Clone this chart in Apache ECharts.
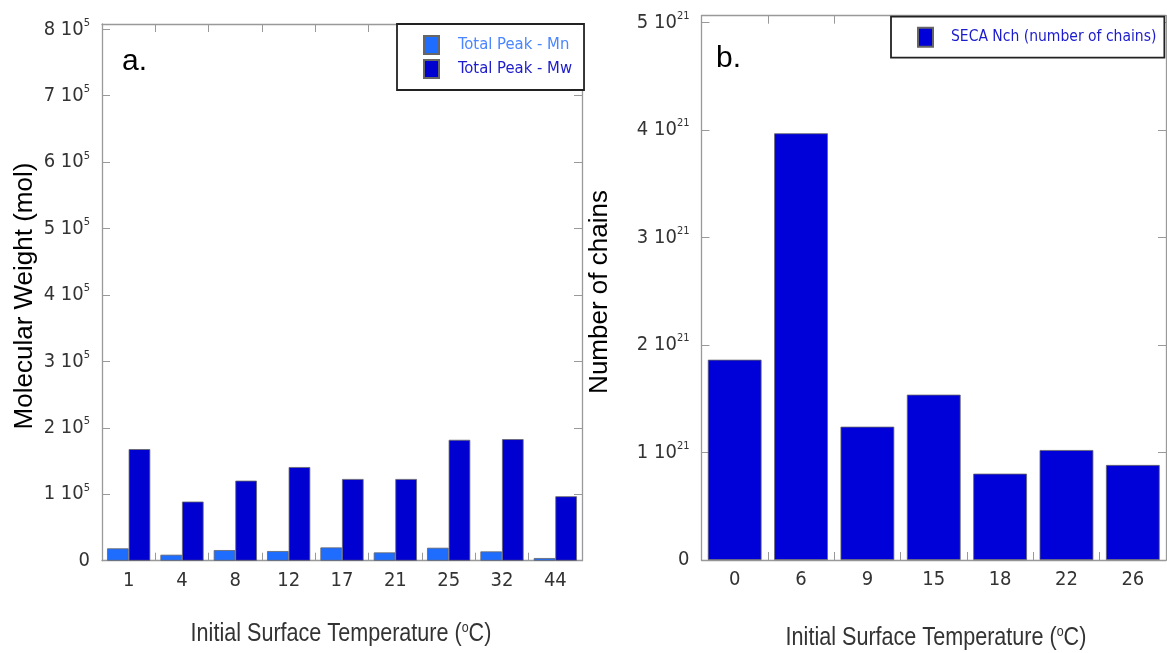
<!DOCTYPE html>
<html>
<head>
<meta charset="utf-8">
<script src="https://cdn.jsdelivr.net/npm/echarts@6/dist/echarts.min.js"></script>
<style>
  html, body { margin: 0; padding: 0; background: #fff; }
  #chart { width: 1167px; height: 653px; }
</style>
</head>
<body>
<div id="chart"></div>
<script>
// Panel a: molecular weight by initial surface temperature
const tempsA = ['1', '4', '8', '12', '17', '21', '25', '32', '44'];
const peakMn = [18600, 9000, 16000, 14500, 20000, 12500, 19500, 14000, 4000];
const peakMw = [168000, 89000, 120500, 141000, 123000, 123000, 182000, 183000, 97000];

// Panel b: number of chains by initial surface temperature
const tempsB = ['0', '6', '9', '15', '18', '22', '26'];
const chains = [1.863e21, 3.969e21, 1.240e21, 1.538e21, 0.803e21, 1.023e21, 0.884e21];

const NARROW = '"DejaVu Sans Condensed", "Liberation Sans Narrow", sans-serif';
const ARIAL = '"Liberation Sans", Arial, sans-serif';
const FRAME = '#999';

const chart = echarts.init(document.getElementById('chart'), null, { renderer: 'canvas' });

function sciLabel(step, exp) {
  return function (v) {
    const k = Math.round(v / step);
    if (Math.abs(v / step - k) > 1e-6) return '';
    if (k === 0) return '{m|0}';
    return '{m|' + k + ' 10}{s|' + exp + '}';
  };
}

const tickRich = {
  m: { fontFamily: NARROW, fontSize: 20, color: '#333', lineHeight: 24 },
  s: { fontFamily: NARROW, fontSize: 11, color: '#333', lineHeight: 10, verticalAlign: 'top' }
};

function catAxis(grid, data, pos) {
  return {
    type: 'category', gridIndex: grid, data: data, position: pos,
    axisLine: { show: true, onZero: false, lineStyle: { color: FRAME, width: 1.3 } },
    axisTick: { show: true, inside: true, length: 8, lineStyle: { color: FRAME, width: 1 } },
    axisLabel: pos === 'bottom'
      ? { show: true, fontFamily: NARROW, fontSize: 20, color: '#333', margin: 10 }
      : { show: false },
    splitLine: { show: false }
  };
}

function valAxis(grid, max, step, exp, pos) {
  return {
    type: 'value', gridIndex: grid, position: pos, min: 0, max: max, interval: step,
    axisLine: { show: true, onZero: false, lineStyle: { color: FRAME, width: 1.3 } },
    axisTick: { show: true, inside: true, length: 8, lineStyle: { color: FRAME, width: 1 } },
    axisLabel: pos === 'left'
      ? { show: true, margin: 12, formatter: sciLabel(step, exp), rich: tickRich }
      : { show: false },
    splitLine: { show: false }
  };
}

const barBorder = { borderColor: '#666', borderWidth: 0.8 };

function tempTitle(x, y) {
  return {
    type: 'text', x: x, y: y, scaleX: 0.83,
    style: {
      text: '{t|Initial Surface Temperature (}{s|o}{t|C)}',
      align: 'center', verticalAlign: 'middle',
      rich: {
        t: { fontFamily: ARIAL, fontSize: 26, fill: '#333', lineHeight: 28 },
        s: { fontFamily: ARIAL, fontSize: 15, fill: '#333', lineHeight: 12, verticalAlign: 'top' }
      }
    }
  };
}

chart.setOption({
  animation: false,
  backgroundColor: '#fff',
  grid: [
    { left: 102, top: 24, width: 480, height: 536.7 },
    { left: 701.5, top: 15.7, width: 464.5, height: 544.3 }
  ],
  xAxis: [
    catAxis(0, tempsA, 'bottom'),
    catAxis(0, tempsA, 'top'),
    catAxis(1, tempsB, 'bottom'),
    catAxis(1, tempsB, 'top')
  ],
  yAxis: [
    valAxis(0, 808000, 100000, '5', 'left'),
    valAxis(0, 808000, 100000, '5', 'right'),
    valAxis(1, 5.063e21, 1e21, '21', 'left'),
    valAxis(1, 5.063e21, 1e21, '21', 'right')
  ],
  legend: [
    {
      left: 397, top: 24, orient: 'vertical',
      padding: [11, 12, 11, 26], itemGap: 4, itemWidth: 15, itemHeight: 18,
      borderColor: '#222', borderWidth: 1.8, backgroundColor: '#fff',
      icon: 'rect',
      textStyle: { fontFamily: NARROW, fontSize: 16.5, padding: [0, 0, 0, 14] },
      data: [
        { name: 'Total Peak - Mn', textStyle: { color: '#4a86ff' } },
        { name: 'Total Peak - Mw', textStyle: { color: '#1c1ccc' } }
      ]
    },
    {
      left: 891, top: 16.7, orient: 'vertical',
      padding: [10, 8, 10, 26], itemWidth: 15, itemHeight: 19,
      borderColor: '#222', borderWidth: 1.8, backgroundColor: '#fff',
      icon: 'rect',
      textStyle: { fontFamily: NARROW, fontSize: 15.5, padding: [0, 0, 0, 13] },
      data: [
        { name: 'SECA Nch (number of chains)', textStyle: { color: '#1c1ccc' } }
      ]
    }
  ],
  series: [
    {
      name: 'Total Peak - Mn', type: 'bar', xAxisIndex: 0, yAxisIndex: 0,
      data: peakMn, barGap: '0%', barCategoryGap: '19%',
      itemStyle: Object.assign({ color: '#1f6dff' }, barBorder)
    },
    {
      name: 'Total Peak - Mw', type: 'bar', xAxisIndex: 0, yAxisIndex: 0,
      data: peakMw, barGap: '0%', barCategoryGap: '19%',
      itemStyle: Object.assign({ color: '#0000d0' }, barBorder)
    },
    {
      name: 'SECA Nch (number of chains)', type: 'bar', xAxisIndex: 2, yAxisIndex: 2,
      data: chains, barCategoryGap: '19%',
      itemStyle: Object.assign({ color: '#0000d8' }, barBorder)
    }
  ],
  graphic: [
    {
      type: 'text', left: 122, top: 47,
      style: { text: 'a.', font: '30px ' + ARIAL, fill: '#000' }
    },
    {
      type: 'text', left: 716, top: 44,
      style: { text: 'b.', font: '30px ' + ARIAL, fill: '#000' }
    },
    {
      type: 'text', x: 25, y: 296, rotation: Math.PI / 2,
      style: {
        text: 'Molecular Weight (mol)', font: '26px ' + ARIAL, fill: '#000',
        align: 'center', verticalAlign: 'middle'
      }
    },
    {
      type: 'text', x: 600, y: 292, rotation: Math.PI / 2,
      style: {
        text: 'Number of chains', font: '26px ' + ARIAL, fill: '#000',
        align: 'center', verticalAlign: 'middle'
      }
    },
    tempTitle(341, 634),
    tempTitle(936, 638)
  ]
});
</script>
</body>
</html>
